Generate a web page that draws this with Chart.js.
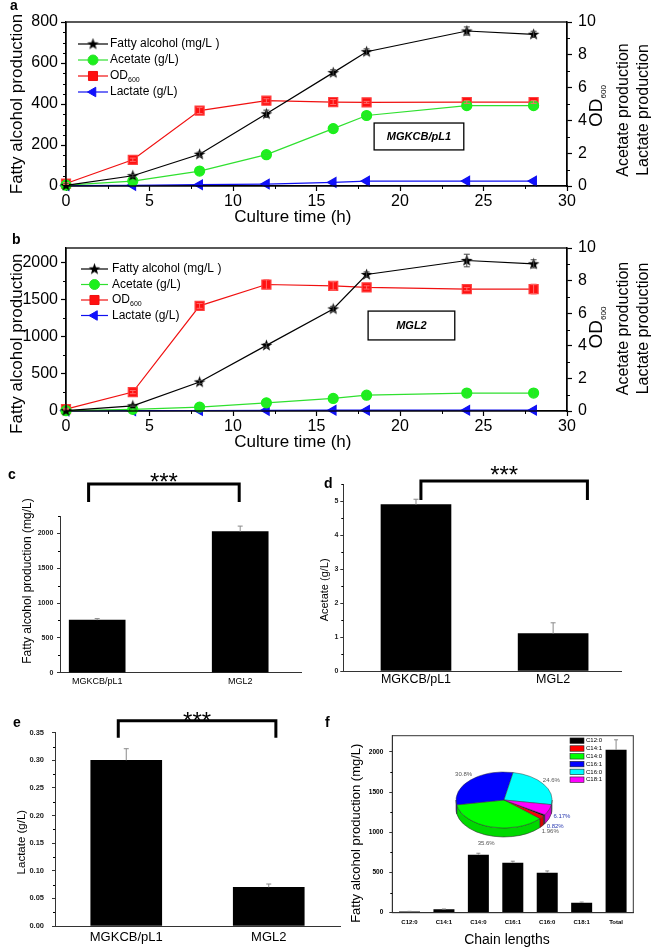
<!DOCTYPE html>
<html lang="en">
<head>
<meta charset="utf-8">
<title>Fatty alcohol, acetate and lactate production</title>
<script src="https://cdn.jsdelivr.net/npm/chart.js@4.4.1/dist/chart.umd.min.js"></script>
<style>
  html, body { margin: 0; padding: 0; background: #fff; }
  #fig { position: relative; width: 656px; height: 950px; overflow: hidden; }
  #fig canvas { position: absolute; }
  .tag { position: absolute; font: bold 14px 'Liberation Sans', Arial, sans-serif; line-height: 14px; color: #000; }
</style>
</head>
<body>
<div id="fig">
  <canvas id="chartA" width="656" height="232" style="left:0;top:0"></canvas>
  <canvas id="chartB" width="656" height="225" style="left:0;top:232px"></canvas>
  <canvas id="chartC" width="320" height="235" style="left:0;top:460px"></canvas>
  <canvas id="chartD" width="346" height="235" style="left:310px;top:460px"></canvas>
  <canvas id="chartE" width="345" height="255" style="left:0;top:695px"></canvas>
  <canvas id="chartF" width="321" height="255" style="left:335px;top:695px"></canvas>
  <canvas id="chartPie" width="160" height="160" style="left:424px;top:720px"></canvas>
  <div class="tag" style="left:10px;top:-2px">a</div>
  <div class="tag" style="left:12px;top:232px">b</div>
  <div class="tag" style="left:8px;top:467px">c</div>
  <div class="tag" style="left:324px;top:476px">d</div>
  <div class="tag" style="left:13px;top:715px">e</div>
  <div class="tag" style="left:325px;top:715px">f</div>
</div>
<script>
// time course sampling points (h)
const hours = [0, 4, 8, 12, 16, 18, 24, 28];
const timeTicks = [0, 5, 10, 15, 20, 25, 30];
const rightTicks = [0, 2, 4, 6, 8, 10];

// panel a - MGKCB/pL1
const faA = [3, 50, 155, 352, 553, 655, 756, 740];
const faErrA = [0, 6, 10, 18, 14, 14, 20, 15];
const aceA = [0.05, 0.3, 0.91, 1.91, 3.5, 4.3, 4.9, 4.9];
const aceErrA = [0, 0.05, 0.05, 0.06, 0.1, 0.1, 0.1, 0.1];
const odA = [0.15, 1.6, 4.6, 5.2, 5.12, 5.1, 5.12, 5.12];
const odErrA = [0.05, 0.1, 0.18, 0.12, 0.15, 0.06, 0.08, 0.08];
const lacA = [0.02, 0.04, 0.08, 0.12, 0.22, 0.3, 0.3, 0.3];
const faTicksA = [0, 100, 200, 300, 400, 500, 600, 700, 800];

// panel b - MGL2
const faB = [5, 70, 392, 886, 1378, 1842, 2031, 1986];
const faErrB = [0, 10, 20, 25, 35, 35, 85, 55];
const aceB = [0.02, 0.1, 0.24, 0.5, 0.77, 0.97, 1.1, 1.1];
const aceErrB = [0, 0.03, 0.05, 0.06, 0.1, 0.18, 0.22, 0.22];
const odB = [0.12, 1.16, 6.45, 7.76, 7.68, 7.58, 7.48, 7.48];
const odErrB = [0.05, 0.1, 0.15, 0.3, 0.25, 0.1, 0.1, 0.3];
const lacB = [0.01, 0.02, 0.03, 0.04, 0.05, 0.05, 0.05, 0.05];
const faTicksB = [0, 500, 1000, 1500, 2000];

// panels c, d, e - final titres per strain
const strains = ['MGKCB/pL1', 'MGL2'];
const faFinal = [755, 2025];
const faFinalErr = [22, 80];
const aceFinal = [4.9, 1.1];
const aceFinalErr = [0.16, 0.32];
const lacFinal = [0.30, 0.07];
const lacFinalErr = [0.021, 0.006];
const faFinalTicks = [0, 500, 1000, 1500, 2000];
const aceFinalTicks = [0, 1, 2, 3, 4, 5];
const lacFinalTicks = [0, 0.05, 0.10, 0.15, 0.20, 0.25, 0.30, 0.35];

// panel f - chain length distribution
const chains = ['C12:0', 'C14:1', 'C14:0', 'C16:1', 'C16:0', 'C18:1', 'Total'];
const chainFa = [15, 42, 721, 622, 497, 124, 2024];
const chainErr = [2, 4, 18, 18, 22, 8, 125];
const chainTicks = [0, 500, 1000, 1500, 2000];
const pieLabels = ['C12:0', 'C14:1', 'C14:0', 'C16:1', 'C16:0', 'C18:1'];
const piePct = [0.82, 1.96, 35.6, 30.8, 24.6, 6.17];
const pieColors = ['#000000', '#ff0000', '#00ff00', '#0000ff', '#00ffff', '#ff00ff'];

const FONT = "'Liberation Sans', Arial, sans-serif";
Chart.defaults.font.family = FONT;
Chart.defaults.color = '#000';
Chart.defaults.animation = false;
Chart.defaults.events = [];
Chart.defaults.plugins.legend.display = false;
Chart.defaults.plugins.tooltip.enabled = false;

const tickList = arr => s => { s.ticks = arr.map(v => ({ value: v })); };

// filled five point star used as marker for fatty alcohol
const starImg = document.createElement('canvas');
starImg.width = 13; starImg.height = 13;
(function () {
  const c = starImg.getContext('2d');
  c.beginPath();
  for (let i = 0; i < 10; i++) {
    const r = i % 2 ? 2.5 : 6.2;
    const a = -Math.PI / 2 + i * Math.PI / 5;
    c.lineTo(6.5 + r * Math.cos(a), 6.8 + r * Math.sin(a));
  }
  c.closePath();
  c.fillStyle = '#000';
  c.fill();
})();

function drawMarker(ctx, ds, x, y) {
  const dp = Chart.helpers && Chart.helpers.drawPoint;
  ctx.fillStyle = ds.backgroundColor;
  ctx.strokeStyle = ds.borderColor;
  ctx.lineWidth = 1;
  if (dp) {
    dp(ctx, { pointStyle: ds.pointStyle, rotation: ds.pointRotation || 0, radius: ds.pointRadius, borderWidth: 1 }, x, y);
  } else {
    ctx.beginPath(); ctx.arc(x, y, 4, 0, Math.PI * 2); ctx.fill();
  }
}

// ---------- plugins ----------
function minorTicks(steps, len) {
  return {
    id: 'minorTicks',
    afterDraw(chart) {
      const ctx = chart.ctx;
      ctx.save();
      ctx.strokeStyle = '#000';
      ctx.lineWidth = 1;
      ctx.beginPath();
      Object.keys(steps).forEach(id => {
        const s = chart.scales[id], step = steps[id];
        const major = s.ticks.map(t => t.value);
        const n = Math.round((s.max - s.min) / step);
        for (let i = 1; i <= n; i++) {
          const v = s.min + i * step;
          if (v > s.max + step / 100) break;
          if (major.some(m => Math.abs(m - v) < step / 100)) continue;
          const p = Math.round(s.getPixelForValue(v)) + 0.5;
          if (s.position === 'left') { ctx.moveTo(s.right, p); ctx.lineTo(s.right - len, p); }
          else if (s.position === 'right') { ctx.moveTo(s.left, p); ctx.lineTo(s.left + len, p); }
          else { ctx.moveTo(p, s.top); ctx.lineTo(p, s.top + len); }
        }
      });
      ctx.stroke();
      ctx.restore();
    }
  };
}

function errorBars(opt) {
  return {
    id: 'errorBars',
    afterDatasetsDraw(chart) {
      const ctx = chart.ctx;
      chart.data.datasets.forEach((ds, i) => {
        if (!ds.errors) return;
        const meta = chart.getDatasetMeta(i);
        const ys = chart.scales[meta.yAxisID];
        ctx.save();
        ctx.strokeStyle = ds.errorColor || ds.borderColor;
        ctx.lineWidth = opt.width;
        ctx.beginPath();
        meta.data.forEach((el, j) => {
          const e = ds.errors[j];
          if (!e) return;
          const d = ds.data[j];
          const v = typeof d === 'object' ? d.y : d;
          const yt = ys.getPixelForValue(v + e);
          const yb = ys.getPixelForValue(opt.upOnly ? v : v - e);
          ctx.moveTo(el.x, yt); ctx.lineTo(el.x, yb);
          ctx.moveTo(el.x - opt.cap, yt); ctx.lineTo(el.x + opt.cap, yt);
          if (!opt.upOnly) { ctx.moveTo(el.x - opt.cap, yb); ctx.lineTo(el.x + opt.cap, yb); }
        });
        ctx.stroke();
        ctx.restore();
      });
    }
  };
}

function frame(color, width) {
  return {
    id: 'frame',
    afterDraw(chart) {
      const { left, top, right, bottom } = chart.chartArea;
      const ctx = chart.ctx;
      ctx.save();
      ctx.strokeStyle = color;
      ctx.lineWidth = width;
      ctx.strokeRect(left, top, right - left, bottom - top);
      ctx.restore();
    }
  };
}

// legend drawn inside the plot: line + marker + text (with subscript)
function seriesKey(k) {
  return {
    id: 'seriesKey',
    afterDraw(chart) {
      const ctx = chart.ctx, ca = chart.chartArea;
      chart.data.datasets.forEach((ds, i) => {
        const y = ca.top + k.top + i * k.gap;
        const x0 = ca.left + k.left;
        ctx.save();
        ctx.strokeStyle = ds.borderColor;
        ctx.lineWidth = ds.borderWidth;
        ctx.beginPath(); ctx.moveTo(x0, y); ctx.lineTo(x0 + k.len, y); ctx.stroke();
        drawMarker(ctx, ds, x0 + k.len / 2, y);
        ctx.fillStyle = '#000';
        ctx.textBaseline = 'middle';
        ctx.font = k.size + 'px ' + FONT;
        const tx = x0 + k.len + k.gapText;
        const main = ds.sub ? ds.label.slice(0, -ds.sub) : ds.label;
        ctx.fillText(main, tx, y);
        if (ds.sub) {
          const w = ctx.measureText(main).width;
          ctx.font = Math.round(k.size * 0.6) + 'px ' + FONT;
          ctx.fillText(ds.label.slice(-ds.sub), tx + w, y + k.size * 0.3);
        }
        ctx.restore();
      });
    }
  };
}

// rotated titles on the right hand side (reading bottom to top)
function sideTitles(items) {
  return {
    id: 'sideTitles',
    afterDraw(chart) {
      const ctx = chart.ctx, ca = chart.chartArea;
      const cy = (ca.top + ca.bottom) / 2;
      items.forEach(it => {
        ctx.save();
        ctx.translate(ca.right + it.dx, cy + it.dy);
        ctx.rotate(-Math.PI / 2);
        ctx.fillStyle = '#000';
        ctx.textBaseline = 'middle';
        ctx.font = it.size + 'px ' + FONT;
        const w = ctx.measureText(it.text).width;
        let sw = 0;
        if (it.sub) {
          ctx.font = it.subSize + 'px ' + FONT;
          sw = ctx.measureText(it.sub).width;
        }
        const x = -(w + sw) / 2;
        ctx.font = it.size + 'px ' + FONT;
        ctx.fillText(it.text, x, 0);
        if (it.sub) {
          ctx.font = it.subSize + 'px ' + FONT;
          ctx.fillText(it.sub, x + w, it.size * 0.35);
        }
        ctx.restore();
      });
    }
  };
}

function tagBox(b) {
  return {
    id: 'tagBox',
    afterDraw(chart) {
      const ctx = chart.ctx, ca = chart.chartArea;
      const w = ca.right - ca.left, h = ca.bottom - ca.top;
      const x0 = ca.left + b.x0 * w, x1 = ca.left + b.x1 * w;
      const y0 = ca.top + b.y0 * h, y1 = ca.top + b.y1 * h;
      ctx.save();
      ctx.strokeStyle = '#000';
      ctx.lineWidth = 1.3;
      ctx.strokeRect(x0, y0, x1 - x0, y1 - y0);
      ctx.fillStyle = '#000';
      ctx.font = 'italic bold 11px ' + FONT;
      ctx.textAlign = 'center';
      ctx.textBaseline = 'middle';
      ctx.fillText(b.text, (x0 + x1) / 2, (y0 + y1) / 2);
      ctx.restore();
    }
  };
}

function sigBracket(b) {
  const size = 24;
  return {
    id: 'sigBracket',
    afterDraw(chart) {
      const ctx = chart.ctx, xs = chart.scales.x, top = chart.chartArea.top;
      const xa = xs.getPixelForValue(b.x0), xb = xs.getPixelForValue(b.x1);
      ctx.save();
      ctx.strokeStyle = '#000';
      ctx.lineWidth = 3;
      ctx.lineJoin = 'miter';
      ctx.beginPath();
      ctx.moveTo(xa, top + b.yLeg);
      ctx.lineTo(xa, top + b.yLine);
      ctx.lineTo(xb, top + b.yLine);
      ctx.lineTo(xb, top + b.yLeg);
      ctx.stroke();
      ctx.fillStyle = '#000';
      ctx.font = size + 'px ' + FONT;
      ctx.textAlign = 'center';
      ctx.textBaseline = 'alphabetic';
      ctx.fillText('***', (xa + xb) / 2, top + b.yText + size * 0.58);
      ctx.restore();
    }
  };
}

// colour key of the pie inset, drawn in the top right of panel f
function pieKey(k) {
  return {
    id: 'pieKey',
    afterDraw(chart) {
      const ctx = chart.ctx, ca = chart.chartArea;
      ctx.save();
      ctx.font = '6px ' + FONT;
      ctx.textBaseline = 'middle';
      pieLabels.forEach((lab, i) => {
        const y = ca.top + k.top + i * k.gap;
        const x = ca.right + k.right;
        ctx.fillStyle = pieColors[i];
        ctx.fillRect(x, y - 2.75, 14, 5.5);
        ctx.strokeStyle = '#222';
        ctx.lineWidth = 0.6;
        ctx.strokeRect(x, y - 2.75, 14, 5.5);
        ctx.fillStyle = '#000';
        ctx.fillText(lab, x + 16, y);
      });
      ctx.restore();
    }
  };
}

function darker(hex, f) {
  const n = parseInt(hex.slice(1), 16);
  return 'rgb(' + Math.round(((n >> 16) & 255) * f) + ',' + Math.round(((n >> 8) & 255) * f) + ',' + Math.round((n & 255) * f) + ')';
}

// tilted pie: side wall first, then the squashed top face, then % labels
function pie3d(p) {
  return {
    id: 'pie3d',
    beforeDatasetsDraw(chart) {
      const ctx = chart.ctx;
      const arcs = chart.getDatasetMeta(0).data;
      const bg = chart.data.datasets[0].backgroundColor;
      const TAU = Math.PI * 2;
      arcs.forEach((a, i) => {
        let s = a.startAngle % TAU;
        if (s < 0) s += TAU;
        const e = s + (a.endAngle - a.startAngle);
        [[0, Math.PI], [TAU, TAU + Math.PI]].forEach(([lo, hi]) => {
          const a1 = Math.max(s, lo), a2 = Math.min(e, hi);
          if (a2 <= a1) return;
          const r = a.outerRadius;
          ctx.beginPath();
          ctx.ellipse(a.x, a.y, r, r * p.squash, 0, a1, a2);
          ctx.ellipse(a.x, a.y + p.depth, r, r * p.squash, 0, a2, a1, true);
          ctx.closePath();
          ctx.fillStyle = darker(bg[i], 0.85);
          ctx.fill();
          ctx.strokeStyle = '#333';
          ctx.lineWidth = 0.6;
          ctx.stroke();
        });
      });
      const cx = arcs[0].x, cy = arcs[0].y;
      ctx.save();
      ctx.translate(cx, cy);
      ctx.scale(1, p.squash);
      ctx.translate(-cx, -cy);
    },
    afterDatasetsDraw(chart) {
      const ctx = chart.ctx;
      ctx.restore();
      const arcs = chart.getDatasetMeta(0).data;
      ctx.save();
      ctx.font = '6px ' + FONT;
      ctx.textAlign = 'center';
      ctx.textBaseline = 'middle';
      arcs.forEach((a, i) => {
        const mid = (a.startAngle + a.endAngle) / 2;
        const r = a.outerRadius * 1.2;
        const sn = Math.sin(mid);
        let x = a.x + r * Math.cos(mid);
        let y = a.y + r * p.squash * sn;
        if (sn > 0) y += p.depth * Math.min(1, 2 * sn);
        ctx.fillStyle = p.labelColors[i];
        ctx.fillText(chart.data.datasets[0].data[i] + '%', x + p.nudge[i][0], y + p.nudge[i][1]);
      });
      ctx.restore();
    }
  };
}

// ---------- panels a and b ----------
function timeCourse(id, d) {
  const pts = arr => hours.map((h, i) => ({ x: h, y: arr[i] }));
  const axisBase = {
    grid: { drawOnChartArea: false, tickLength: 5, tickColor: '#000', tickWidth: 1.2 },
    border: { color: '#000', width: 1.3 }
  };
  return new Chart(document.getElementById(id), {
    type: 'line',
    data: {
      datasets: [
        { label: 'Fatty alcohol (mg/L )', data: pts(d.fa), yAxisID: 'y', borderColor: '#000', backgroundColor: '#000',
          borderWidth: 1.2, pointStyle: starImg, pointRadius: 6, errors: d.faErr, errorColor: '#444', clip: false },
        { label: 'Acetate (g/L)', data: pts(d.ace), yAxisID: 'y2', borderColor: '#2fe02f', backgroundColor: '#1cf01c',
          borderWidth: 1.2, pointStyle: 'circle', pointRadius: 5, pointBorderColor: '#1cf01c', errors: d.aceErr, errorColor: '#2fe02f', clip: false },
        { label: 'OD600', sub: 3, data: pts(d.od), yAxisID: 'y2', borderColor: '#f01010', backgroundColor: '#ff1010',
          borderWidth: 1.2, pointStyle: 'rect', pointRadius: 6.4, pointBorderColor: '#ff4040', errors: d.odErr, errorColor: '#ff6a6a', clip: false },
        { label: 'Lactate (g/L)', data: pts(d.lac), yAxisID: 'y2', borderColor: '#1010f0', backgroundColor: '#1010ff',
          borderWidth: 1.2, pointStyle: 'triangle', pointRotation: -90, pointRadius: 5.5, clip: false }
      ]
    },
    options: {
      responsive: false,
      layout: { padding: { top: d.padTop, right: 59, left: 0, bottom: 0 } },
      scales: {
        x: Object.assign({
          type: 'linear', position: 'bottom', min: 0, max: 30,
          afterBuildTicks: tickList(timeTicks),
          ticks: { font: { size: 16 }, padding: 1, maxRotation: 0, callback: v => String(v) },
          title: { display: true, text: 'Culture time (h)          ', font: { size: 17 }, padding: { top: 0, bottom: 4 } },
          afterFit: s => { s.height = 46; }
        }, axisBase),
        y: Object.assign({
          position: 'left', min: 0, max: d.yMax,
          afterBuildTicks: tickList(d.yTicks),
          ticks: { font: { size: 16 }, padding: 3, callback: v => String(v) },
          title: { display: true, text: d.yTitle, font: { size: 17 }, padding: { top: 7, bottom: 0 } },
          afterFit: s => { s.width = 66; }
        }, axisBase),
        y2: Object.assign({
          position: 'right', min: 0, max: 10,
          afterBuildTicks: tickList(rightTicks),
          ticks: { font: { size: 16 }, padding: 6, callback: v => String(v) },
          afterFit: s => { s.width = 30; }
        }, axisBase)
      }
    },
    plugins: [
      errorBars({ cap: 3, width: 1 }),
      frame('#000', 1.3),
      minorTicks({ x: 2.5, y: d.yMinor, y2: 1 }, 3),
      seriesKey(d.key),
      tagBox(d.tag),
      sideTitles([
        { text: 'OD', sub: '600', size: 19, subSize: 8, dx: 30, dy: d.sideDy[0] },
        { text: 'Acetate production', size: 16, dx: 57, dy: d.sideDy[1] },
        { text: 'Lactate production', size: 16, dx: 77, dy: d.sideDy[2] }
      ])
    ]
  });
}

timeCourse('chartA', {
  fa: faA, faErr: faErrA, ace: aceA, aceErr: aceErrA, od: odA, odErr: odErrA, lac: lacA,
  yMax: 800, yTicks: faTicksA, yMinor: 50, padTop: 22,
  yTitle: 'Fatty alcohol production', sideDy: [2, 6, 6],
  key: { left: 12, top: 22, gap: 16, len: 30, gapText: 2, size: 12 },
  tag: { text: 'MGKCB/pL1', x0: 0.615, x1: 0.794, y0: 0.616, y1: 0.78 }
});

timeCourse('chartB', {
  fa: faB, faErr: faErrB, ace: aceB, aceErr: aceErrB, od: odB, odErr: odErrB, lac: lacB,
  yMax: 2200, yTicks: faTicksB, yMinor: 250, padTop: 16,
  yTitle: 'Fatty alcohol production      ', sideDy: [-2, -1, -1],
  key: { left: 15, top: 21, gap: 15.5, len: 27, gapText: 4, size: 12 },
  tag: { text: 'MGL2', x0: 0.603, x1: 0.776, y0: 0.387, y1: 0.564 }
});

// ---------- panels c, d, e ----------
function strainBars(id, vals, errs, c) {
  return new Chart(document.getElementById(id), {
    type: 'bar',
    data: {
      datasets: [{
        data: vals.map((v, i) => ({ x: i + 1, y: v })),
        backgroundColor: '#000', borderWidth: 0, barThickness: c.barW,
        errors: errs, errorColor: '#8a8a8a'
      }]
    },
    options: {
      responsive: false,
      layout: { padding: { top: c.top, right: c.right, left: 0, bottom: 0 } },
      scales: {
        x: {
          type: 'linear', offset: false, min: c.xMin, max: c.xMax,
          afterBuildTicks: s => { s.ticks = strains.map((n, i) => ({ value: i + 1 })); },
          ticks: { font: { size: c.xFont }, padding: c.xPad, maxRotation: 0, autoSkip: false,
                   callback: v => strains[Math.round(v) - 1] || '' },
          grid: { drawOnChartArea: false, drawTicks: false },
          border: { color: '#333', width: 1 },
          afterFit: s => { s.height = c.xH; }
        },
        y: {
          min: 0, max: c.yMax,
          afterBuildTicks: tickList(c.yTicks),
          ticks: { font: { size: c.yFont, weight: 'bold' }, padding: c.yPad, color: '#222', callback: c.fmt },
          grid: { drawOnChartArea: false, tickLength: 3, tickColor: '#333' },
          border: { color: '#333', width: 1 },
          title: { display: true, text: c.title, font: { size: c.titleSize }, padding: { top: c.titlePad, bottom: 0 } },
          afterFit: s => { s.width = c.yW; }
        }
      }
    },
    plugins: [
      errorBars({ upOnly: true, cap: 2.5, width: 1 }),
      minorTicks({ y: c.yMinor }, 2),
      sigBracket(c.bracket)
    ]
  });
}

strainBars('chartC', faFinal, faFinalErr, {
  top: 56, right: 18.3, xH: 22.3, yW: 60, xMin: 0.74, xMax: 2.43, barW: 56,
  xFont: 9, xPad: 3.9, yMax: 2250, yTicks: faFinalTicks, yMinor: 250, yFont: 7, yPad: 3.7,
  fmt: v => String(v),
  title: '        Fatty alcohol production (mg/L)', titleSize: 12, titlePad: 20.8,
  bracket: { x0: 0.94, x1: 1.993, yLine: -32, yLeg: -14, yText: -40 }
});

strainBars('chartD', aceFinal, aceFinalErr, {
  top: 24.3, right: 34.3, xH: 24, yW: 33.3, xMin: 0.47, xMax: 2.5, barW: 70,
  xFont: 12.5, xPad: 1.5, yMax: 5.5, yTicks: aceFinalTicks, yMinor: 0.5, yFont: 7, yPad: 2,
  fmt: v => String(v),
  title: 'Acetate (g/L)        ', titleSize: 11, titlePad: 8.4,
  bracket: { x0: 1.036, x1: 2.25, yLine: -3.3, yLeg: 15.7, yText: -15.3 }
});

strainBars('chartE', lacFinal, lacFinalErr, {
  top: 37.7, right: 5, xH: 24, yW: 55, xMin: 0.5, xMax: 2.5, barW: 71,
  xFont: 13, xPad: 3.2, yMax: 0.35, yTicks: lacFinalTicks, yMinor: 0.025, yFont: 7.5, yPad: 8,
  fmt: v => v.toFixed(2),
  title: 'Lactate (g/L)        ', titleSize: 11.5, titlePad: 15.1,
  bracket: { x0: 0.944, x1: 2.05, yLine: -12, yLeg: 5, yText: -17.7 }
});

// ---------- panel f ----------
new Chart(document.getElementById('chartF'), {
  type: 'bar',
  data: {
    labels: chains,
    datasets: [{ data: chainFa, backgroundColor: '#000', borderWidth: 0, barPercentage: 0.61, categoryPercentage: 1,
                 errors: chainErr, errorColor: '#8a8a8a' }]
  },
  options: {
    responsive: false,
    layout: { padding: { top: 40.7, right: 22.7, left: 0, bottom: 0 } },
    scales: {
      x: {
        ticks: { font: { size: 6, weight: 'bold' }, padding: 6.4, maxRotation: 0, autoSkip: false },
        grid: { drawOnChartArea: false, drawTicks: false },
        border: { color: '#333', width: 1 },
        title: { display: true, text: 'Chain lengths   ', font: { size: 14 }, padding: { top: 0, bottom: 1.4 } },
        afterFit: s => { s.height = 37.3; }
      },
      y: {
        min: 0, max: 2200,
        afterBuildTicks: tickList(chainTicks),
        ticks: { font: { size: 6.5, weight: 'bold' }, padding: 6, callback: v => String(v) },
        grid: { drawOnChartArea: false, tickLength: 3, tickColor: '#333' },
        border: { color: '#333', width: 1 },
        title: { display: true, text: 'Fatty alcohol production (mg/L)     ', font: { size: 13 }, padding: { top: 13.9, bottom: 0 } },
        afterFit: s => { s.width = 57.3; }
      }
    }
  },
  plugins: [
    errorBars({ upOnly: true, cap: 2, width: 1 }),
    frame('#333', 1),
    minorTicks({ y: 250 }, 2),
    pieKey({ top: 5, gap: 7.8, right: -63.3 })
  ]
});

new Chart(document.getElementById('chartPie'), {
  type: 'pie',
  data: {
    labels: pieLabels,
    datasets: [{ data: piePct, backgroundColor: pieColors, borderColor: '#333', borderWidth: 0.6 }]
  },
  options: {
    responsive: false,
    radius: 48,
    rotation: 121.8,
    layout: { padding: 0 }
  },
  plugins: [pie3d({
    squash: 0.583, depth: 9,
    labelColors: ['#2a3ab0', '#555', '#555', '#555', '#555', '#2a3ab0'],
    nudge: [[3, -1], [1, 2], [-2, 2], [0, -2], [0, -1], [4, -2]]
  })]
});
</script>
</body>
</html>
